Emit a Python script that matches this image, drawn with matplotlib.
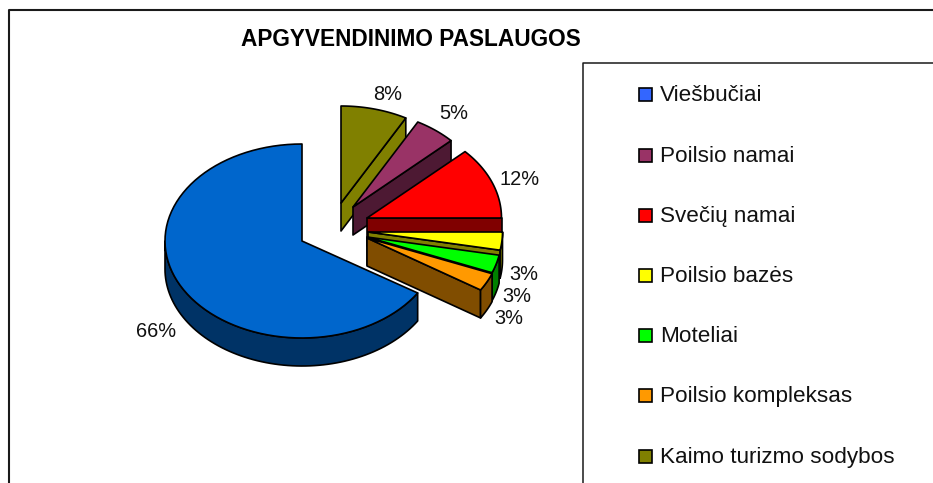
#!/usr/bin/env python3

import numpy as np
from matplotlib import pyplot as plt
from matplotlib.patches import Polygon, Rectangle

plt.rcParams['font.family'] = ['Liberation Sans', 'DejaVu Sans']

# pie runs counter clockwise from 12 o'clock, legend has its own order
slices = ['Viešbučiai', 'Poilsio kompleksas', 'Moteliai', 'Poilsio bazės',
          'Svečių namai', 'Poilsio namai', 'Kaimo turizmo sodybos']
shares = [66, 3, 3, 3, 12, 5, 8]
legend_names = ['Viešbučiai', 'Poilsio namai', 'Svečių namai', 'Poilsio bazės',
                'Moteliai', 'Poilsio kompleksas', 'Kaimo turizmo sodybos']
title = 'APGYVENDINIMO PASLAUGOS'

# styles, one per slice
top_cols = ['#0066CC', '#FF9900', '#00FF00', '#FFFF00', '#FF0000', '#993366', '#808000']
side_cols = ['#003366', '#804D00', '#008000', '#808000', '#800000', '#4D1933', '#808000']
legend_cols = ['#3366FF', '#993366', '#FF0000', '#FFFF00', '#00FF00', '#FF9900', '#808000']
offsets = [(0, 0), (65, -3), (65, -4), (66, -9), (65, -23), (51, -34), (39, -38)]
label_pos = [(156, 337), (509, 324), (517, 302), (524, 280), (520, 185), (454, 119), (388, 100)]

CX, CY = 302, 241
RX, RY = 137, 97
RX_OUT = 134.5   # the pulled out wedges come out a bit narrower
DEPTH = 28
LW = 1.2
LABEL_FS = 14.4
LEGEND_FS = 16.2


def arc(cx, cy, rx, a1, a2):
    t = np.radians(np.linspace(a1, a2, 80))
    return np.column_stack([cx + rx*np.cos(t), cy - RY*np.sin(t)])


fig = plt.figure(figsize=(9.33, 4.83), dpi=100)
ax = fig.add_axes([0, 0, 1, 1])
ax.set_xlim(0, 933)
ax.set_ylim(483, 0)
ax.axis('off')

# outer frame and legend box
ax.plot([8.5, 8.5, 933], [483, 9.5, 9.5], color='#1a1a1a', lw=1.5)
ax.plot([582.5, 582.5, 933], [483, 63, 63], color='#1a1a1a', lw=1.1)

ax.text(411, 39, title, ha='center', va='center', fontsize=16.3, fontweight='bold')

ends = 90 + np.cumsum(shares)*3.6
starts = ends - np.array(shares)*3.6

# back to front: olive first, blue last
for i in range(len(shares) - 1, -1, -1):
    cx, cy = CX + offsets[i][0], CY + offsets[i][1]
    rx = RX if i == 0 else RX_OUT
    a1, a2 = starts[i], ends[i]
    apex = np.array([[cx, cy]])
    down = np.array([0, DEPTH])

    # cut face on the clockwise edge, hidden on the big blue one
    if i != 0:
        tip = arc(cx, cy, rx, a1, a1)[:1]
        face = np.vstack([apex, tip, tip + down, apex + down])
        ax.add_patch(Polygon(face, fc=side_cols[i], ec='black', lw=LW, joinstyle='round'))

    # rim, the part of the arc on the lower half
    lo, hi = max(a1, 180), min(a2, 360)
    if hi > lo and a1 < 360:
        edge = arc(cx, cy, rx, lo, hi)
        rim = np.vstack([edge, edge[::-1] + down])
        ax.add_patch(Polygon(rim, fc=side_cols[i], ec='black', lw=LW, joinstyle='round'))

    top = np.vstack([apex, arc(cx, cy, rx, a1, a2)])
    ax.add_patch(Polygon(top, fc=top_cols[i], ec='black', lw=LW, joinstyle='round'))

    ax.text(label_pos[i][0], label_pos[i][1], '%d%%' % shares[i],
            ha='center', va='baseline', fontsize=LABEL_FS, color='#111111')

legend_y = [94, 155, 215, 275, 335, 395, 456]
for name, col, y in zip(legend_names, legend_cols, legend_y):
    ax.add_patch(Rectangle((639, y - 6.5), 13, 13, fc=col, ec='black', lw=1.2))
    ax.text(660, y + 7, name, ha='left', va='baseline', fontsize=LEGEND_FS, color='#111111')

fig.savefig('out.png', dpi=100)
